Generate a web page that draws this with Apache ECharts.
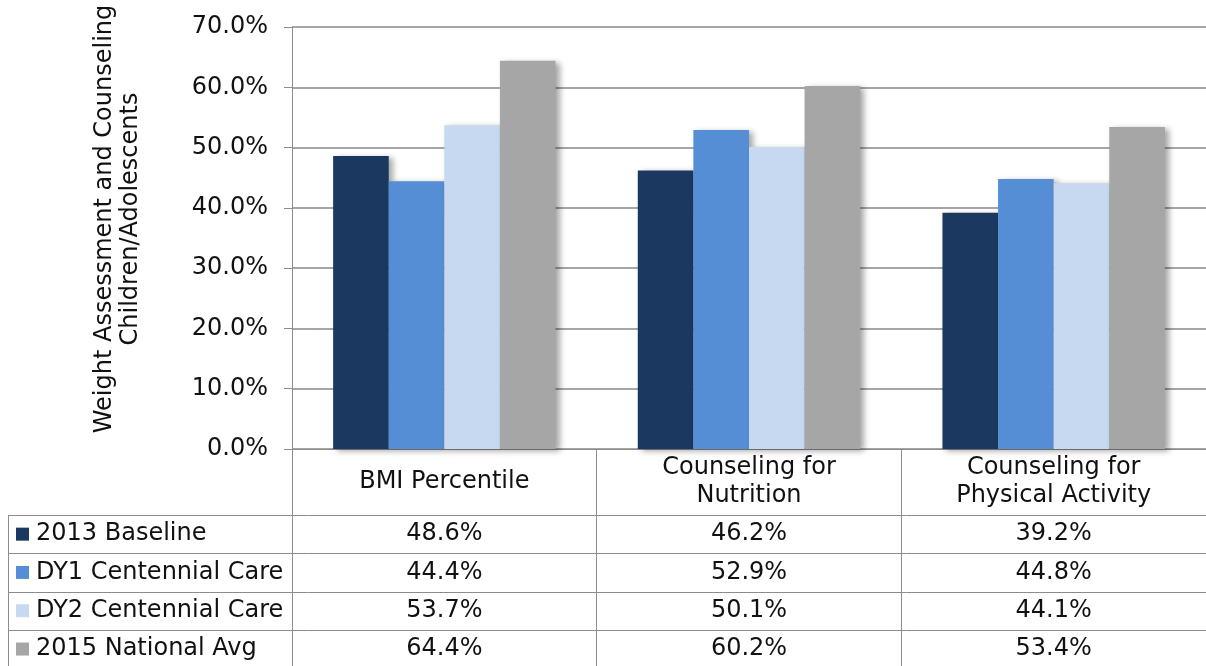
<!DOCTYPE html>
<html>
<head>
<meta charset="utf-8">
<script src="https://cdn.jsdelivr.net/npm/echarts@6/dist/echarts.min.js"></script>
<style>
html,body{margin:0;padding:0;background:#fff;}
#chart{width:1206px;height:666px;}
</style>
</head>
<body>
<div id="chart"></div>
<script>
const categories = ['BMI Percentile', 'Counseling for\nNutrition', 'Counseling for\nPhysical Activity'];
const seriesNames = ['2013 Baseline', 'DY1 Centennial Care', 'DY2 Centennial Care', '2015 National Avg'];
const baseline2013 = [48.6, 46.2, 39.2];
const dy1Care = [44.4, 52.9, 44.8];
const dy2Care = [53.7, 50.1, 44.1];
const national2015 = [64.4, 60.2, 53.4];
const seriesColors = ['#1B3860', '#558ED5', '#C6D9F1', '#A6A6A6'];
const yTitle = ['Weight Assessment and Counseling', 'Children/Adolescents'];

const allValues = [baseline2013, dy1Care, dy2Care, national2015];
const FONT = 'DejaVu Sans';
const FS = 24;
const TXT = '#111';
const LINE = '#8c8c8c';

const chart = echarts.init(document.getElementById('chart'));

const series = seriesNames.map((name, i) => ({
  name: name,
  type: 'bar',
  data: allValues[i],
  barGap: '0%',
  barCategoryGap: '27%',
  itemStyle: {
    color: seriesColors[i],
    shadowColor: 'rgba(0,0,0,0.35)',
    shadowBlur: 6,
    shadowOffsetX: 4,
    shadowOffsetY: 2
  },
  emphasis: { disabled: true },
  z: 3
}));

chart.setOption({
  animation: false,
  backgroundColor: '#fff',
  grid: { left: 292, top: 27, width: 915, bottom: 217, containLabel: false },
  xAxis: {
    type: 'category',
    data: categories,
    axisLine: { show: true, lineStyle: { color: LINE, width: 1 } },
    axisTick: { show: true, length: 220, alignWithLabel: false, lineStyle: { color: LINE, width: 1 } },
    axisLabel: {
      interval: 0,
      margin: 33,
      verticalAlign: 'middle',
      fontFamily: FONT,
      fontSize: FS,
      lineHeight: 28,
      color: TXT,
      align: 'center'
    }
  },
  yAxis: {
    type: 'value',
    min: 0,
    max: 70,
    interval: 10,
    axisLine: { show: true, lineStyle: { color: LINE, width: 1 } },
    axisTick: { show: true, length: 8, lineStyle: { color: LINE } },
    splitLine: { show: true, lineStyle: { color: '#888', width: 1.5 } },
    axisLabel: {
      margin: 24,
      fontFamily: FONT,
      fontSize: FS,
      color: TXT,
      formatter: v => v.toFixed(1) + '%'
    }
  },
  series: series
});

// Data table below the chart, built from the same arrays
const rowTop = 515;
const rowH = 38.3;
const tableLeft = 8;
const tableRight = 1206;
const graphics = [];

// y-axis title (two rotated lines)
yTitle.forEach((t, k) => {
  graphics.push({
    type: 'text',
    x: 105 + k * 26,
    y: 219,
    rotation: Math.PI / 2,
    style: { text: t, font: FS + 'px "' + FONT + '"', fill: TXT, align: 'center', verticalAlign: 'middle' },
    z: 10
  });
});

// horizontal table lines
for (let r = 0; r < seriesNames.length; r++) {
  const y = Math.round(rowTop + r * rowH) + 0.5;
  graphics.push({
    type: 'line',
    shape: { x1: tableLeft, y1: y, x2: tableRight, y2: y },
    style: { stroke: LINE, lineWidth: 1 },
    z: 10
  });
}
// left border of legend column
graphics.push({
  type: 'line',
  shape: { x1: tableLeft + 0.5, y1: rowTop, x2: tableLeft + 0.5, y2: 666 },
  style: { stroke: LINE, lineWidth: 1 },
  z: 10
});

seriesNames.forEach((name, r) => {
  const cy = rowTop + r * rowH + rowH / 2;
  graphics.push({
    type: 'rect',
    shape: { x: 16, y: cy - 6.5, width: 13, height: 13 },
    style: { fill: seriesColors[r] },
    z: 10
  });
  graphics.push({
    type: 'text',
    x: 36, y: cy,
    style: { text: name, font: FS + 'px "' + FONT + '"', fill: TXT, align: 'left', verticalAlign: 'middle' },
    z: 10
  });
  allValues[r].forEach((v, c) => {
    const cx = chart.convertToPixel({ xAxisIndex: 0 }, c);
    graphics.push({
      type: 'text',
      x: cx, y: cy,
      style: { text: v.toFixed(1) + '%', font: FS + 'px "' + FONT + '"', fill: TXT, align: 'center', verticalAlign: 'middle' },
      z: 10
    });
  });
});

chart.setOption({ graphic: graphics });
</script>
</body>
</html>
